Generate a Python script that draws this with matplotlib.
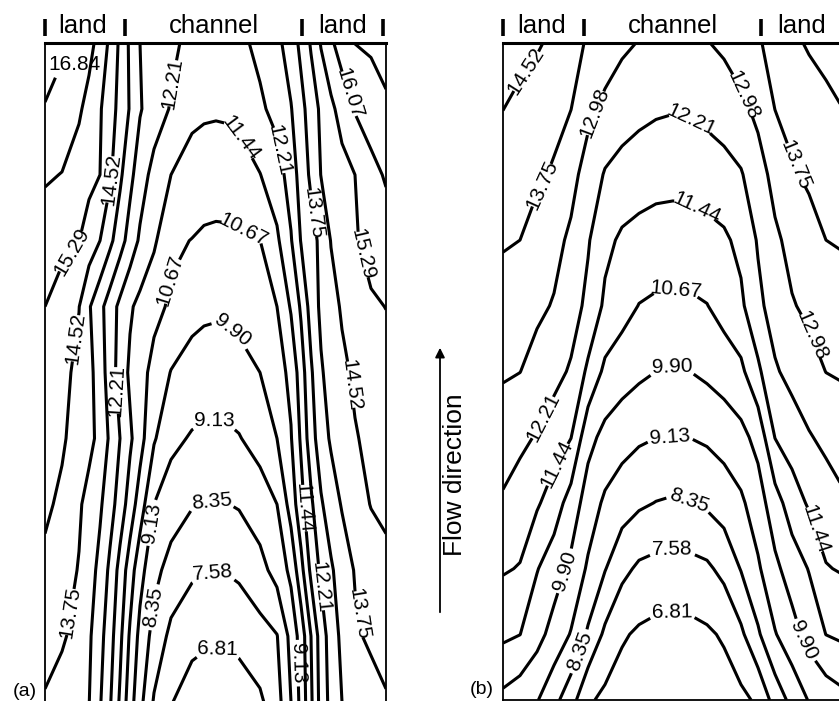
import numpy as np
import matplotlib
matplotlib.use("Agg")
import matplotlib.pyplot as plt
from matplotlib.patches import FancyArrowPatch

plt.rcParams['font.family'] = ['Liberation Sans', 'DejaVu Sans']

levels = [6.81, 7.58, 8.35, 9.13, 9.90, 10.67, 11.44, 12.21, 12.98, 13.75,
          14.52, 15.29, 16.07, 16.84]

# rows: bottom (0) to top (100) of each panel, along the flow
y_rows = [0, 10, 20, 30, 40, 50, 60, 70, 80, 90, 100]

# panel (a): positions across land | channel | land and values
x_a = [0, 17, 34, 44, 55, 65, 75, 85, 95, 109, 126, 147, 159, 171, 183, 194, 215, 232,
       246, 256, 266, 276, 286, 297, 310, 326, 341]
z_a = [
    [13.68, 13.42, 13.15, 13.00, 12.28, 11.52, 10.56, 9.46, 8.58, 7.50, 6.85, 6.43, 6.33, 6.30,
     6.33, 6.40, 6.68, 7.26, 8.35, 9.35, 10.54, 11.73, 12.45, 12.98, 13.19, 13.44, 13.68],
    [14.03, 13.85, 13.48, 13.10, 12.47, 11.75, 10.86, 9.79, 8.91, 8.07, 7.40, 7.04, 6.96, 6.93,
     6.95, 7.02, 7.30, 7.55, 8.58, 9.46, 10.67, 11.82, 12.56, 13.16, 13.64, 13.88, 14.03],
    [14.37, 14.05, 13.71, 13.30, 12.77, 12.04, 11.18, 10.28, 9.39, 8.59, 8.05, 7.71, 7.63, 7.60,
     7.63, 7.72, 8.10, 8.63, 9.32, 10.41, 11.61, 12.36, 12.88, 13.34, 13.80, 14.10, 14.37],
    [14.64, 14.39, 13.85, 13.49, 13.09, 12.53, 11.86, 11.10, 10.29, 9.13, 8.75, 8.40, 8.34, 8.32,
     8.34, 8.41, 8.75, 9.13, 10.21, 11.18, 12.06, 12.89, 13.37, 13.81, 14.18, 14.55, 14.64],
    [14.85, 14.61, 14.23, 13.96, 13.54, 12.85, 12.21, 11.57, 10.97, 9.98, 9.31, 9.06, 9.00, 8.98,
     9.01, 9.09, 9.42, 9.90, 10.62, 11.55, 12.65, 13.39, 13.85, 14.14, 14.47, 14.68, 14.85],
    [15.08, 14.74, 14.32, 13.98, 13.37, 12.60, 11.90, 11.30, 10.95, 10.43, 9.87, 9.60, 9.54, 9.52,
     9.55, 9.62, 9.90, 10.35, 10.86, 11.83, 12.87, 13.67, 14.03, 14.37, 14.63, 14.86, 15.08],
    [15.29, 14.92, 14.54, 13.83, 13.20, 12.60, 12.02, 11.54, 11.23, 10.88, 10.56, 10.15, 10.05,
     10.02, 10.05, 10.14, 10.49, 10.67, 11.52, 12.32, 13.29, 13.90, 14.26, 14.60, 14.87, 15.21,
     15.30],
    [15.72, 15.51, 15.30, 14.94, 14.52, 13.93, 13.30, 12.66, 12.09, 11.56, 10.80, 10.65, 10.54,
     10.50, 10.51, 10.54, 10.66, 11.31, 12.15, 13.02, 13.45, 13.94, 14.55, 14.86, 15.23, 15.50,
     15.72],
    [16.15, 16.05, 15.70, 15.50, 15.29, 14.65, 13.90, 13.19, 12.57, 11.96, 11.44, 11.17, 11.10,
     11.08, 11.10, 11.17, 11.42, 11.87, 12.54, 13.31, 13.89, 14.54, 14.76, 15.00, 15.29, 15.83,
     16.15],
    [16.81, 16.50, 16.18, 15.80, 15.36, 14.85, 14.28, 13.69, 13.04, 12.60, 12.15, 11.60, 11.54,
     11.52, 11.54, 11.60, 12.08, 12.45, 12.94, 13.51, 14.11, 14.66, 15.11, 15.61, 16.13, 16.45,
     16.75],
    [17.10, 16.98, 16.82, 16.33, 15.77, 15.14, 14.37, 13.62, 12.98, 12.70, 12.35, 12.02, 11.93,
     11.90, 11.93, 12.03, 12.40, 12.79, 13.34, 13.94, 14.60, 15.35, 15.95, 16.42, 16.85, 16.95,
     17.05],
]

# panel (b)
x_b = [0, 17, 34, 51, 68, 85, 102, 119, 136, 153, 170, 187, 204, 221, 238, 255,
       272, 289, 306, 323, 341]
z_b = [
    [9.70, 9.44, 9.18, 8.58, 7.88, 6.94, 6.62, 6.45, 6.30, 6.19, 6.15,
     6.19, 6.30, 6.45, 6.62, 6.94, 7.88, 8.58, 9.18, 9.44, 9.70],
    [10.82, 10.68, 10.16, 9.62, 9.08, 8.24, 7.43, 6.90, 6.70, 6.59, 6.55,
     6.59, 6.70, 6.90, 7.43, 8.24, 9.08, 9.62, 10.16, 10.68, 10.82],
    [11.51, 11.40, 10.71, 10.25, 9.73, 9.02, 8.39, 7.79, 7.45, 7.34, 7.30,
     7.34, 7.45, 7.79, 8.39, 9.02, 9.73, 10.25, 10.71, 11.40, 11.51],
    [12.11, 11.83, 11.54, 11.06, 10.34, 9.54, 9.00, 8.70, 8.47, 8.33, 8.26,
     8.33, 8.47, 8.70, 9.00, 9.54, 10.34, 11.06, 11.54, 11.83, 12.11],
    [12.60, 12.39, 12.15, 11.80, 11.46, 10.14, 9.68, 9.42, 9.24, 9.14, 9.12,
     9.14, 9.24, 9.42, 9.68, 10.14, 11.46, 11.80, 12.15, 12.39, 12.60],
    [13.06, 12.99, 12.72, 12.45, 12.12, 11.29, 10.50, 10.25, 10.05, 9.90, 9.85,
     9.90, 10.05, 10.25, 10.50, 11.29, 12.12, 12.45, 12.72, 12.99, 13.06],
    [13.44, 13.28, 13.12, 12.93, 12.54, 12.03, 11.30, 10.95, 10.65, 10.55, 10.52,
     10.55, 10.65, 10.95, 11.30, 12.03, 12.54, 12.93, 13.12, 13.28, 13.44],
    [13.82, 13.75, 13.47, 13.19, 12.85, 12.28, 11.63, 11.32, 11.20, 11.12, 11.10,
     11.12, 11.20, 11.32, 11.63, 12.28, 12.85, 13.19, 13.47, 13.75, 13.82],
    [14.17, 14.02, 13.87, 13.67, 13.22, 12.67, 12.15, 11.93, 11.79, 11.70, 11.67,
     11.70, 11.79, 11.93, 12.15, 12.67, 13.22, 13.67, 13.87, 14.02, 14.17],
    [14.53, 14.35, 14.15, 13.96, 13.76, 13.16, 12.80, 12.58, 12.42, 12.31, 12.26,
     12.31, 12.42, 12.58, 12.80, 13.16, 13.76, 13.96, 14.15, 14.35, 14.53],
    [14.88, 14.74, 14.60, 14.37, 14.01, 13.67, 13.39, 13.11, 12.95, 12.91, 12.86,
     12.91, 12.95, 13.11, 13.39, 13.67, 14.01, 14.37, 14.60, 14.74, 14.88],
]

# where the contour labels sit (level, x, y)
labels_a = [(16.84, 30, 96.8), (12.21, 110, 94.4), (11.44, 192, 85.3), (12.21, 237, 83.8),
            (16.07, 300, 92.1), (14.52, 70, 79.2), (10.67, 192, 70.1), (13.75, 272, 74.2),
            (15.29, 27, 68.3), (10.67, 112, 64.3), (15.29, 315, 67.8), (9.90, 185, 56.0),
            (14.52, 30, 55.2), (12.21, 73, 47.3), (14.52, 303, 48.1), (9.13, 170, 42.3),
            (11.44, 258, 29.4), (9.13, 102, 27.3), (8.35, 167, 29.9), (7.58, 168, 19.7),
            (12.21, 280, 17.5), (8.35, 113, 14.3), (13.75, 32, 13.5), (13.75, 310, 13.2),
            (6.81, 173, 8.2), (9.13, 255, 5.9)]
labels_b = [(14.52, 29, 95.1), (12.98, 89, 89.5), (12.98, 241, 92.1), (12.21, 187, 88.0),
            (13.75, 42, 78.1), (13.75, 287, 81.1), (11.44, 190, 74.1), (10.67, 172, 61.6),
            (12.98, 302, 55.1), (9.90, 169, 50.7), (12.21, 45, 42.6), (9.13, 167, 40.0),
            (11.44, 57, 35.6), (8.35, 185, 30.0), (11.44, 305, 25.6), (7.58, 170, 22.4),
            (9.90, 69, 19.3), (6.81, 169, 13.7), (9.90, 292, 8.4), (8.35, 80, 7.2)]

ticks_a = [0, 80, 257, 338]
ticks_b = [0, 81, 258, 339]
names_a = [(38, 'land'), (169, 'channel'), (298, 'land')]
names_b = [(39, 'land'), (170, 'channel'), (299, 'land')]

fig = plt.figure(figsize=(8.39, 7.01), dpi=100)


def panel(rect, xs, zs, labels, ticks, names):
    ax = fig.add_axes(rect)
    cs = ax.contour(xs, y_rows, np.array(zs), levels=levels, colors='k', linewidths=2.2)
    # set up label formatting once, then put each label on its own level
    cs.clabel(levels, manual=[], inline=True, inline_spacing=3, fmt='%.2f', fontsize=15)
    for lev, lx, ly in labels:
        cs.labelIndiceList = [levels.index(lev)]
        cs.add_label_near(lx, ly, inline=True, inline_spacing=3)
        t = cs.labelTexts[-1]
        rot = t.get_rotation()
        if rot > 180:
            rot -= 360
        if abs(rot) > 60:
            # steep labels read upwards on the left bank, downwards on the right
            t.set_rotation(abs(rot) if lx < 170 else -abs(rot))
        if lev == 16.84:
            t.set_rotation(0)
            t.set_position((lx, ly))
    ax.set_xlim(0, 341)
    ax.set_ylim(0, 100)
    ax.set_xticks([])
    ax.set_yticks([])
    for s in ax.spines.values():
        s.set_linewidth(1.3)
    ax.spines['top'].set_linewidth(2.2)
    tr = ax.get_xaxis_transform()
    for t in ticks:
        ax.plot([t, t], [1.011, 1.036], transform=tr, color='k', lw=2.6,
                clip_on=False, solid_capstyle='butt')
    for nx, name in names:
        ax.text(nx, 1.015, name, transform=tr, ha='center', va='baseline', fontsize=18.5)
    return ax


panel([45 / 839, -1 / 701, 341 / 839, 659 / 701], x_a, z_a, labels_a, ticks_a, names_a)
panel([503 / 839, 1 / 701, 341 / 839, 657 / 701], x_b, z_b, labels_b, ticks_b, names_b)

fig.text(13 / 839, 0.002, '(a)', fontsize=14, ha='left', va='bottom')
fig.text(470 / 839, 0.004, '(b)', fontsize=14, ha='left', va='bottom')

fig.text(455 / 839, 1 - 475 / 701, 'Flow direction', rotation=90, fontsize=19,
         ha='center', va='center')
arrow = FancyArrowPatch((440 / 839, 1 - 615 / 701), (440 / 839, 1 - 345 / 701),
                        transform=fig.transFigure, arrowstyle='-|>', mutation_scale=14,
                        lw=1.3, color='k')
fig.add_artist(arrow)

fig.savefig('out.png', dpi=100)
